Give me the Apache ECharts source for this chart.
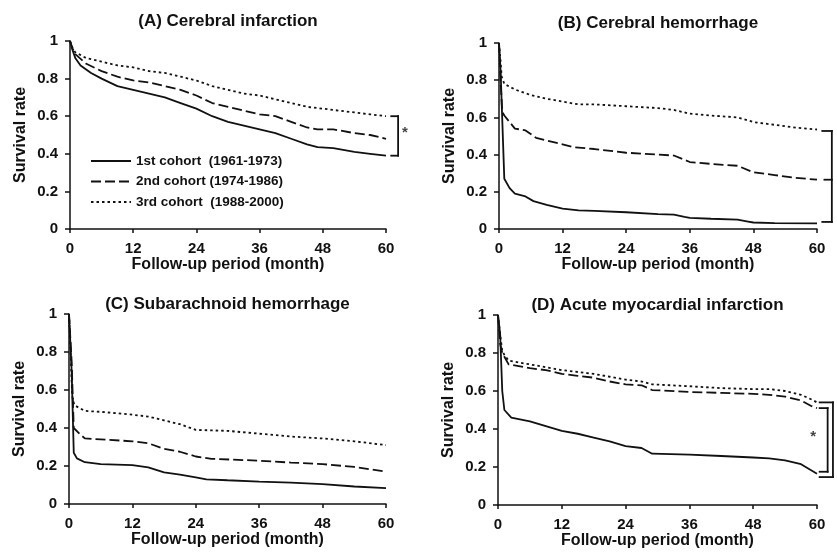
<!DOCTYPE html>
<html><head><meta charset="utf-8">
<script src="https://cdn.jsdelivr.net/npm/echarts@6/dist/echarts.min.js"></script>
<style>html,body{margin:0;padding:0;background:#fff}#c{width:837px;height:556px}</style>
</head><body><div id="c"></div>
<script>
const titles = ['(A) Cerebral infarction','(B) Cerebral hemorrhage','(C) Subarachnoid hemorrhage','(D) Acute myocardial infarction'];
const cohortNames = ['1st cohort  (1961-1973)','2nd cohort (1974-1986)','3rd cohort  (1988-2000)'];
const xTicks = [0,12,24,36,48,60];
const xLabel = 'Follow-up period (month)';
const yLabel = 'Survival rate';

const A_1st = [[0,1],[0.5,0.95],[1,0.91],[2,0.87],[4,0.83],[6,0.8],[9,0.76],[12,0.74],[15,0.72],[18,0.7],[21,0.67],[24,0.64],[27,0.6],[30,0.57],[33,0.55],[36,0.53],[39,0.51],[42,0.48],[45,0.45],[47,0.435],[50,0.43],[54,0.41],[57,0.4],[60,0.39]];
const A_2nd = [[0,1],[0.5,0.96],[1,0.93],[3,0.88],[6,0.84],[9,0.81],[12,0.79],[15,0.78],[18,0.76],[21,0.74],[24,0.71],[27,0.67],[30,0.65],[33,0.63],[36,0.61],[39,0.6],[42,0.57],[45,0.54],[47,0.53],[50,0.53],[54,0.51],[57,0.5],[60,0.48]];
const A_3rd = [[0,1],[0.5,0.96],[1,0.94],[3,0.91],[6,0.89],[9,0.87],[12,0.86],[15,0.84],[18,0.83],[21,0.81],[24,0.79],[27,0.76],[30,0.74],[33,0.72],[36,0.71],[39,0.69],[42,0.67],[45,0.65],[48,0.64],[51,0.63],[54,0.62],[57,0.61],[60,0.6]];

const B_1st = [[0,1],[0.3,0.85],[0.6,0.6],[1,0.27],[2,0.22],[3,0.19],[5,0.175],[6.5,0.15],[9,0.13],[12,0.11],[15,0.1],[18,0.097],[24,0.09],[30,0.08],[33,0.077],[35,0.065],[36,0.06],[40,0.055],[45,0.05],[47,0.04],[48,0.035],[52,0.032],[60,0.03]];
const B_2nd = [[0,1],[0.3,0.8],[0.6,0.63],[1,0.61],[3,0.54],[5,0.53],[7,0.49],[9,0.475],[12,0.455],[14,0.44],[18,0.43],[24,0.41],[30,0.4],[33,0.395],[36,0.36],[40,0.35],[45,0.34],[48,0.305],[52,0.29],[56,0.275],[60,0.265]];
const B_3rd = [[0,1],[0.3,0.9],[0.5,0.82],[1,0.78],[3,0.75],[6,0.72],[9,0.7],[12,0.685],[15,0.67],[18,0.67],[24,0.66],[30,0.65],[33,0.64],[36,0.62],[40,0.61],[45,0.6],[48,0.575],[52,0.56],[56,0.545],[60,0.535]];

const C_1st = [[0,1],[0.5,0.7],[0.9,0.27],[1.5,0.24],[3,0.22],[6,0.21],[12,0.205],[15,0.193],[18,0.167],[21,0.155],[24,0.14],[26,0.13],[30,0.125],[36,0.118],[42,0.112],[48,0.105],[54,0.092],[60,0.084]];
const C_2nd = [[0,1],[0.5,0.75],[0.9,0.4],[2,0.37],[3,0.345],[6,0.34],[12,0.33],[15,0.32],[18,0.29],[21,0.275],[24,0.25],[27,0.238],[36,0.228],[42,0.218],[48,0.21],[54,0.195],[60,0.17]];
const C_3rd = [[0,1],[0.3,0.8],[0.6,0.57],[1,0.52],[3,0.49],[6,0.485],[12,0.47],[15,0.46],[18,0.44],[21,0.42],[24,0.39],[30,0.385],[36,0.37],[42,0.355],[48,0.345],[54,0.33],[60,0.31]];

const D_1st = [[0,1],[0.4,0.9],[0.8,0.6],[1.2,0.5],[2.5,0.46],[6,0.44],[9,0.415],[12,0.39],[15,0.375],[18,0.355],[21,0.335],[24,0.31],[27,0.3],[29,0.27],[36,0.265],[42,0.258],[48,0.25],[51,0.245],[54,0.235],[57,0.215],[60,0.165]];
const D_2nd = [[0,1],[0.4,0.85],[0.8,0.8],[1.2,0.78],[2,0.74],[6,0.72],[9,0.71],[12,0.69],[15,0.68],[18,0.67],[21,0.65],[24,0.635],[27,0.63],[29,0.605],[36,0.595],[42,0.59],[48,0.585],[51,0.58],[54,0.57],[57,0.55],[59,0.52],[60,0.51]];
const D_3rd = [[0,1],[0.4,0.9],[0.8,0.81],[1.2,0.79],[2,0.76],[6,0.74],[9,0.725],[12,0.71],[15,0.7],[18,0.69],[21,0.675],[24,0.66],[27,0.65],[29,0.635],[36,0.625],[42,0.615],[48,0.61],[51,0.61],[54,0.6],[57,0.58],[59,0.555],[60,0.54]];

// significance brackets (annotations, in data units)
const A_bracket = [[61,0.6],[62.3,0.6],[62.3,0.39],[61,0.39]];
const A_star = [[63.6,0.51]];
const B_bracket = [[61,0.527],[62.8,0.527],[62.8,0.038],[61,0.038]];
const B_mid = [[61.4,0.265],[62.8,0.265]];
const D_bracketIn = [[60.5,0.51],[62,0.51],[62,0.175],[60.5,0.175]];
const D_bracketOut = [[60.5,0.54],[63,0.54],[63,0.147],[60.5,0.147]];
const D_star = [[59.3,0.36]];

const panelData = [[A_1st,A_2nd,A_3rd],[B_1st,B_2nd,B_3rd],[C_1st,C_2nd,C_3rd],[D_1st,D_2nd,D_3rd]];
const grids = [
  {left:70, top:41, width:316, height:188},
  {left:499, top:43, width:318, height:186},
  {left:69, top:314, width:317, height:190},
  {left:498, top:315, width:319, height:190}
];
const INK = '#111';
const FONT = '"Liberation Sans", Arial, sans-serif';
const styles = [
  {type:'solid', width:1.8},
  {type:[10,4], width:1.8},
  {type:[2.5,3], width:1.8}
];

const option = {
  backgroundColor:'#fff',
  animation:false,
  textStyle:{fontFamily:FONT},
  title: titles.map((t,i)=>({
    text:t,
    left: grids[i].left + grids[i].width/2,
    textAlign:'center',
    top: [13,15,296,297][i],
    padding:0,
    textStyle:{fontFamily:FONT, fontWeight:'bold', fontSize:17, color:INK}
  })),
  legend:{
    data:cohortNames,
    orient:'vertical', left:90, top:154, padding:0,
    itemWidth:40, itemHeight:14, itemGap:6.5,
    itemStyle:{color:'transparent', borderColor:'transparent', borderWidth:0, opacity:0},
    textStyle:{fontFamily:FONT, fontWeight:'bold', fontSize:13.5, color:INK},
    selectedMode:false
  },
  grid: grids,
  xAxis: grids.map((g,i)=>({
    type:'value', gridIndex:i, min:0, max:60, interval:12,
    name:xLabel, nameLocation:'middle', nameGap:25,
    nameTextStyle:{fontFamily:FONT, fontWeight:'bold', fontSize:16, color:INK},
    axisLine:{show:true, lineStyle:{color:INK, width:1.5}},
    axisTick:{show:true, length:4, lineStyle:{color:INK, width:1.5}},
    axisLabel:{margin:12, fontFamily:FONT, fontWeight:'bold', fontSize:15, color:INK},
    splitLine:{show:false}
  })),
  yAxis: grids.map((g,i)=>({
    type:'value', gridIndex:i, min:0, max:1, interval:0.2,
    name:yLabel, nameLocation:'middle', nameGap:41, nameRotate:90,
    nameTextStyle:{fontFamily:FONT, fontWeight:'bold', fontSize:16, color:INK},
    axisLine:{show:true, lineStyle:{color:INK, width:1.5}},
    axisTick:{show:true, length:5, lineStyle:{color:INK, width:1.5}},
    axisLabel:{margin:12, fontFamily:FONT, fontWeight:'bold', fontSize:15, color:INK},
    splitLine:{show:false}
  })),
  series: []
};

panelData.forEach((arrs,i)=>{
  arrs.forEach((d,k)=>{
    option.series.push({
      type:'line', name:cohortNames[k], xAxisIndex:i, yAxisIndex:i,
      data:d, symbol:'none', silent:true,
      lineStyle:{color:INK, type:styles[k].type, width:styles[k].width},
      itemStyle:{color:INK}
    });
  });
});

function bracket(pts,i){
  const segs = [];
  for (let j=0;j<pts.length-1;j++) segs.push([pts[j][0],pts[j][1],pts[j+1][0],pts[j+1][1]]);
  return {type:'custom', xAxisIndex:i, yAxisIndex:i, data:segs, clip:false, silent:true, z:5,
    encode:{x:[0,2], y:[1,3]},
    renderItem:function(params, api){
      const p1 = api.coord([api.value(0), api.value(1)]);
      const p2 = api.coord([api.value(2), api.value(3)]);
      return {type:'line', shape:{x1:p1[0],y1:p1[1],x2:p2[0],y2:p2[1]},
        style:{stroke:INK, lineWidth:1.8, lineCap:'square'}};
    }};
}
function star(d,i){
  return {type:'scatter', xAxisIndex:i, yAxisIndex:i, data:d, symbolSize:0, clip:false, silent:true,
    label:{show:true, position:'inside', formatter:'*', fontFamily:FONT, fontWeight:'bold', fontSize:15, color:INK}};
}
option.series.push(bracket(A_bracket,0), star(A_star,0));
option.series.push(bracket(B_bracket,1), bracket(B_mid,1));
option.series.push(bracket(D_bracketIn,3), bracket(D_bracketOut,3), star(D_star,3));

const chart = echarts.init(document.getElementById('c'), null, {renderer:'canvas'});
chart.setOption(option);
</script>
</body></html>
